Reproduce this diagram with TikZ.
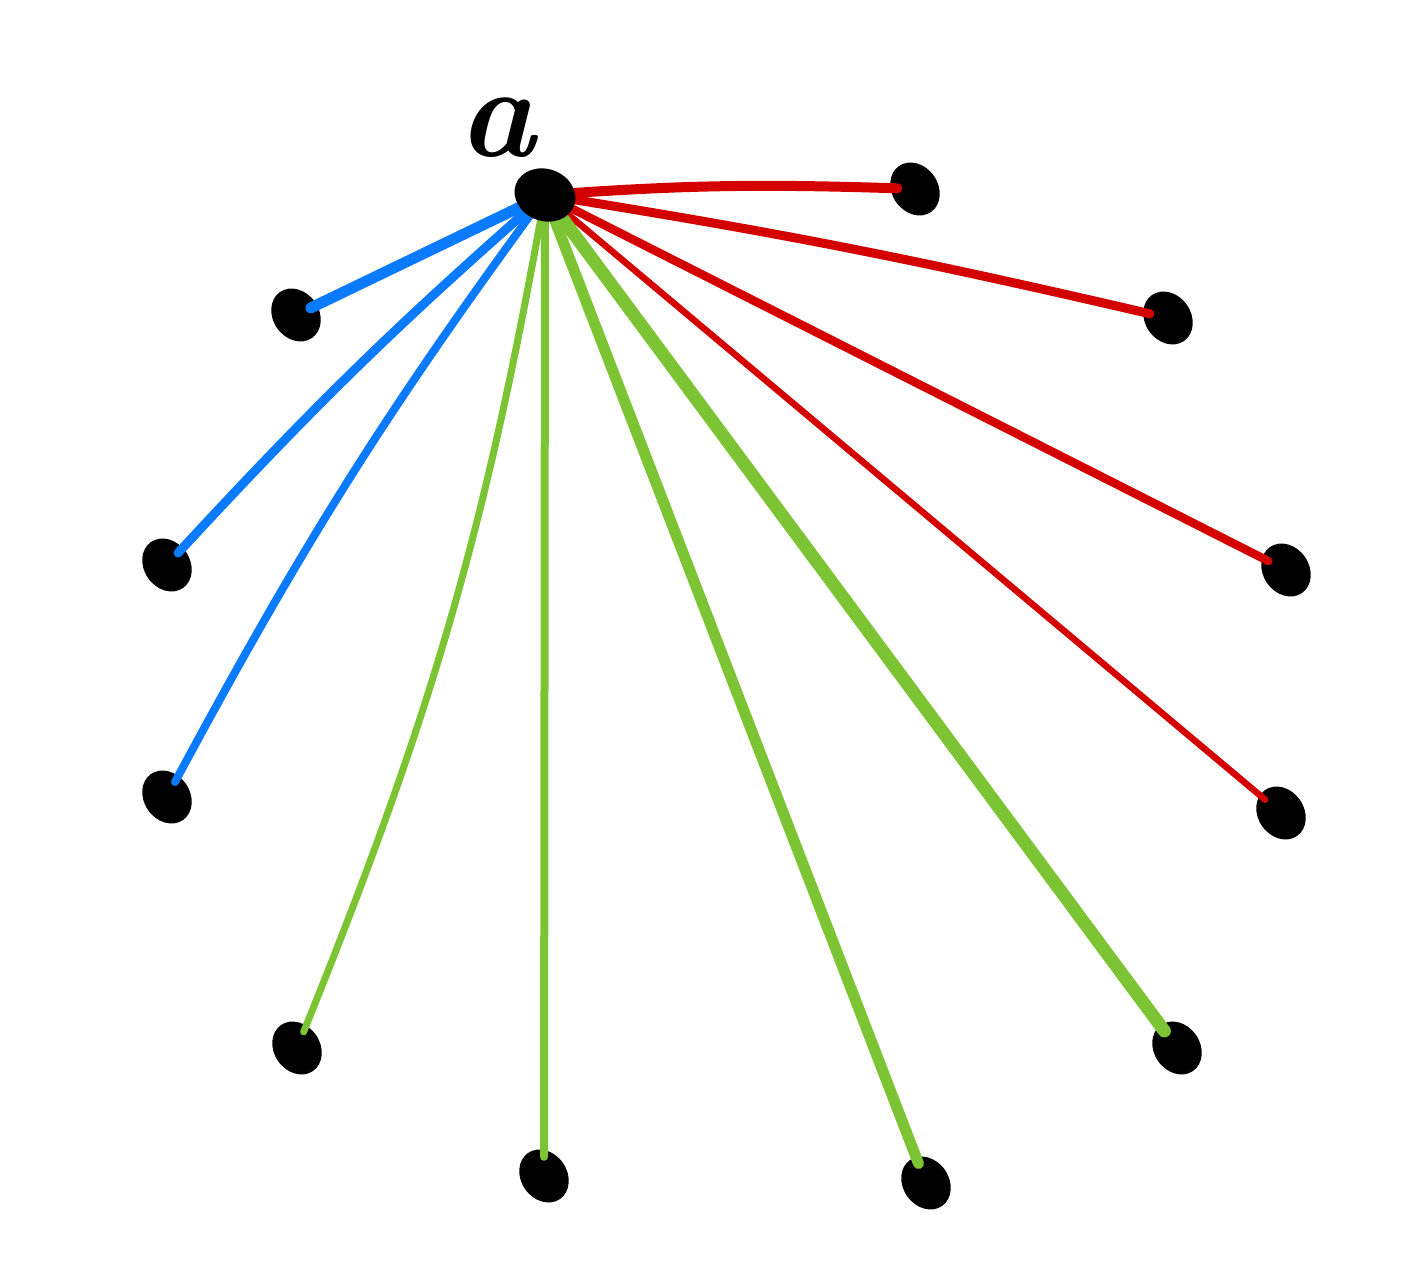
\documentclass[tikz,border=0pt]{standalone}
\usetikzlibrary{shapes.geometric}
\definecolor{ered}{HTML}{D40000}
\definecolor{egreen}{HTML}{7DC435}
\definecolor{eblue}{HTML}{0A7AFF}
\begin{document}
\begin{tikzpicture}[x=1pt,y=-1pt,
  blob/.style={ellipse,fill=black,inner sep=0pt,minimum width=46pt,minimum height=56pt,rotate=35},
  edge/.style={line cap=round,line join=round,shorten >=-7pt}]
\useasboundingbox (0,0) rectangle (1409,1284);
% leaves
\node[blob] (l1) at (915,189) {};
\node[blob] (l2) at (1168,318) {};
\node[blob] (l3) at (1286,570) {};
\node[blob] (l4) at (1281,813) {};
\node[blob] (l5) at (1177,1048) {};
\node[blob] (l6) at (926,1183) {};
\node[blob] (l7) at (544,1176) {};
\node[blob] (l8) at (297,1048) {};
\node[blob] (l9) at (167,797) {};
\node[blob] (l10) at (167,565) {};
\node[blob] (l11) at (296,315) {};
\coordinate (c) at (545,195);
% edges
\draw[edge,ered,line width=10pt] (c) to[bend left=3] (l1);
\draw[edge,ered,line width=9pt] (c) to[bend left=2] (l2);
\draw[edge,ered,line width=8.5pt] (c) -- (l3);
\draw[edge,ered,line width=6.5pt] (c) -- (l4);
\draw[edge,egreen,line width=13pt] (c) -- (l5);
\draw[edge,egreen,line width=11pt] (c) -- (l6);
\draw[edge,egreen,line width=8pt] (c) -- (l7);
\draw[edge,egreen,line width=7pt] (c) to[bend left=6] (l8);
\draw[edge,eblue,line width=8pt] (c) to[bend right=4] (l9);
\draw[edge,eblue,line width=9pt] (c) to[bend right=3] (l10);
\draw[edge,eblue,line width=11pt] (c) -- (l11);
% center
\node[ellipse,fill=black,inner sep=0pt,minimum width=62pt,minimum height=52pt,rotate=-20] (cn) at (c) {};
\node (lab) at (497,128) {\fontsize{130}{130}\selectfont\bfseries\itshape a};
\end{tikzpicture}
\end{document}
